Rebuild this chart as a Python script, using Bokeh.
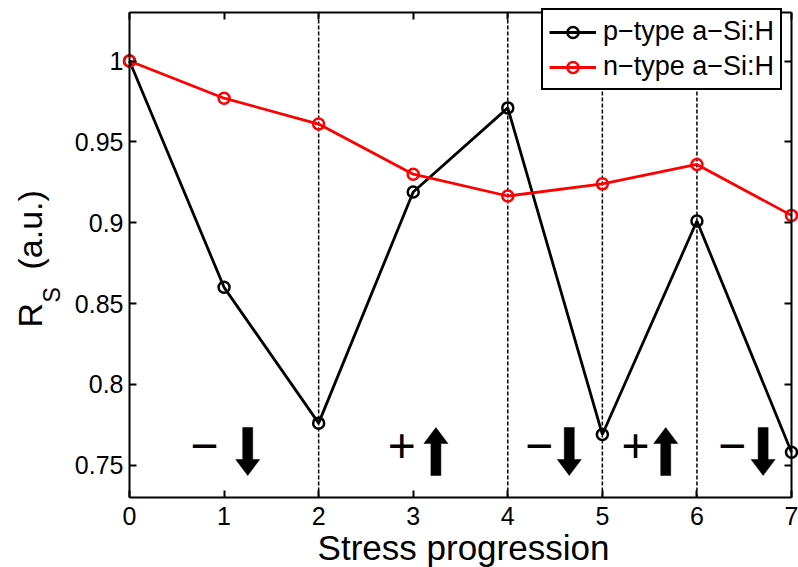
import numpy as np
from bokeh.plotting import figure
from bokeh.models import (Range1d, FixedTicker, LinearAxis, Label,
                          Legend, LegendItem, ColumnDataSource)
from bokeh.core.properties import value
from bokeh.embed import file_html
from bokeh.resources import INLINE

# ---- data -------------------------------------------------------------
stress_step = [0, 1, 2, 3, 4, 5, 6, 7]
rs_p_type = [1.000, 0.860, 0.776, 0.919, 0.971, 0.769, 0.901, 0.758]
rs_n_type = [1.000, 0.977, 0.961, 0.930, 0.9165, 0.924, 0.936, 0.9045]
series_labels = ["p\u2212type a\u2212Si:H", "n\u2212type a\u2212Si:H"]

x_ticks = [0, 1, 2, 3, 4, 5, 6, 7]
y_ticks = [0.75, 0.8, 0.85, 0.9, 0.95, 1.0]
y_tick_labels = ["0.75", "0.8", "0.85", "0.9", "0.95", "1"]

# steps where the bias polarity is switched
boundary_steps = [2, 4, 5, 6]

# bias polarity of each stress phase, with sign and arrow positions (stress units)
phase_signs = ["\u2212", "+", "\u2212", "+", "\u2212"]
sign_x = [0.79, 2.88, 4.33, 5.35, 6.37]
arrow_x = [1.25, 3.24, 4.65, 5.67, 6.70]
arrow_dir = [-1, 1, -1, 1, -1]

# ---- layout -----------------------------------------------------------
FONT = "Liberation Sans"
W, H = 798, 567
# axes box inside the canvas (pixels): left, right, top, bottom margins
BL, BR, BT, BB = 129, 7, 12, 70
X0, X1 = 0, 7
Y0, Y1 = 0.73, 1.03
PX_X = (X1 - X0) / (W - BL - BR)   # data units per pixel
PX_Y = (Y1 - Y0) / (H - BT - BB)
XA, XB = X0 - BL * PX_X, X1 + BR * PX_X
YA, YB = Y0 - BB * PX_Y, Y1 + BT * PX_Y


def at_x(px):
    """canvas pixel column -> x data coordinate"""
    return XA + px * PX_X


def at_y(py):
    """canvas pixel row -> y data coordinate"""
    return YA + (H - py) * PX_Y


# the plotting frame fills the whole canvas; the axes box is drawn by
# fixed-location axes so that titles and labels can sit around it
p = figure(width=W, height=H, x_range=Range1d(XA, XB), y_range=Range1d(YA, YB),
           output_backend="svg", toolbar_location=None, min_border=0)
p.grid.visible = False
p.background_fill_color = "white"
p.border_fill_color = "white"
p.outline_line_color = None

xax, yax = p.xaxis[0], p.yaxis[0]
xax.fixed_location = Y0
yax.fixed_location = X0
xax.bounds = (X0, X1)
yax.bounds = (Y0, Y1)
xax.ticker = FixedTicker(ticks=x_ticks)
yax.ticker = FixedTicker(ticks=y_ticks)
yax.major_label_overrides = dict(zip(y_ticks, y_tick_labels))

for ax in (xax, yax):
    ax.axis_line_width = 2
    ax.major_tick_in = 7
    ax.major_tick_out = 0
    ax.major_tick_line_width = 2
    ax.minor_tick_line_color = None
    ax.major_label_text_font = FONT
    ax.major_label_text_font_size = "25px"
    ax.major_label_text_color = "black"
xax.major_label_standoff = 9
yax.major_label_standoff = 6

# mirrored ticks on the top and right edges of the box
for side, ticks, loc, bounds in (("above", x_ticks, Y1, (X0, X1)),
                                 ("right", y_ticks, X1, (Y0, Y1))):
    ax = LinearAxis(ticker=FixedTicker(ticks=ticks), fixed_location=loc, bounds=bounds,
                    axis_line_width=2, major_tick_in=7, major_tick_out=0,
                    major_tick_line_width=2, minor_tick_line_color=None,
                    major_label_text_color=None)
    p.add_layout(ax, side)

# polarity switch markers
n_b = len(boundary_steps)
p.segment(x0=boundary_steps, y0=[Y0] * n_b, x1=boundary_steps, y1=[Y1] * n_b,
          line_color="black", line_width=1.5, line_dash="4 2")

# ---- series -----------------------------------------------------------
src = ColumnDataSource(dict(step=stress_step, p=rs_p_type, n=rs_n_type))
lp = p.line("step", "p", source=src, line_color="black", line_width=2.8)
sp = p.scatter("step", "p", source=src, marker="circle", size=11,
               fill_color=None, line_color="black", line_width=2.5)
ln = p.line("step", "n", source=src, line_color="red", line_width=2.8)
sn = p.scatter("step", "n", source=src, marker="circle", size=11,
               fill_color=None, line_color="red", line_width=2.5)

# legend box: left edge and top edge in canvas pixels
LEG_LEFT, LEG_TOP = 541, 18
LEG_ROW, LEG_PAD, LEG_GAP = 28, 6, 4
LEG_H = 2 * LEG_ROW + LEG_GAP + 2 * LEG_PAD
legend = Legend(items=[LegendItem(label=series_labels[0], renderers=[lp, sp]),
                       LegendItem(label=series_labels[1], renderers=[ln, sn])],
                location=(LEG_LEFT, H - LEG_TOP - LEG_H), margin=0,
                padding=LEG_PAD, spacing=LEG_GAP,
                glyph_width=47, glyph_height=LEG_ROW, label_height=LEG_ROW,
                label_standoff=7,
                label_text_font=FONT, label_text_font_size="27px",
                label_text_color="black",
                border_line_color="black", border_line_width=2.5, border_line_alpha=1,
                background_fill_color="white", background_fill_alpha=1)
p.add_layout(legend)

# ---- polarity signs and block arrows ------------------------------------
SIGN_Y = at_y(445)
p.text(x=sign_x, y=[SIGN_Y] * len(sign_x), text=phase_signs,
       text_font=value(FONT), text_font_size="48px", text_color="black",
       text_align="center", text_baseline="middle")

ARROW_TOP, ARROW_BOTTOM = at_y(427), at_y(475)
SHAFT_HALF, HEAD_HALF, HEAD_LEN = 5 * PX_X, 12 * PX_X, 16 * PX_Y
xs, ys = [], []
for cx, d in zip(arrow_x, arrow_dir):
    if d < 0:
        tip, tail, neck = ARROW_BOTTOM, ARROW_TOP, ARROW_BOTTOM + HEAD_LEN
    else:
        tip, tail, neck = ARROW_TOP, ARROW_BOTTOM, ARROW_TOP - HEAD_LEN
    xs.append([cx - SHAFT_HALF, cx + SHAFT_HALF, cx + SHAFT_HALF, cx + HEAD_HALF,
               cx, cx - HEAD_HALF, cx - SHAFT_HALF])
    ys.append([tail, tail, neck, neck, tip, neck, neck])
p.patches(xs, ys, fill_color="black", line_color="black", line_width=0.5)

# ---- axis titles --------------------------------------------------------
p.add_layout(Label(x=at_x(463), y=at_y(547), text="Stress progression",
                   text_font=FONT, text_font_size="35px", text_color="black",
                   text_align="center", text_baseline="alphabetic"))
p.add_layout(Label(x=at_x(29), y=at_y(327), text="R", angle=np.pi / 2,
                   text_font=FONT, text_font_size="34px", text_color="black",
                   text_align="left", text_baseline="alphabetic"))
p.add_layout(Label(x=at_x(51), y=at_y(302), text="S", angle=np.pi / 2,
                   text_font=FONT, text_font_size="23px", text_color="black",
                   text_align="left", text_baseline="alphabetic"))
p.add_layout(Label(x=at_x(29), y=at_y(269), text="(a.u.)", angle=np.pi / 2,
                   text_font=FONT, text_font_size="34px", text_color="black",
                   text_align="left", text_baseline="alphabetic"))

open("out.html", "w").write(file_html(p, INLINE))
